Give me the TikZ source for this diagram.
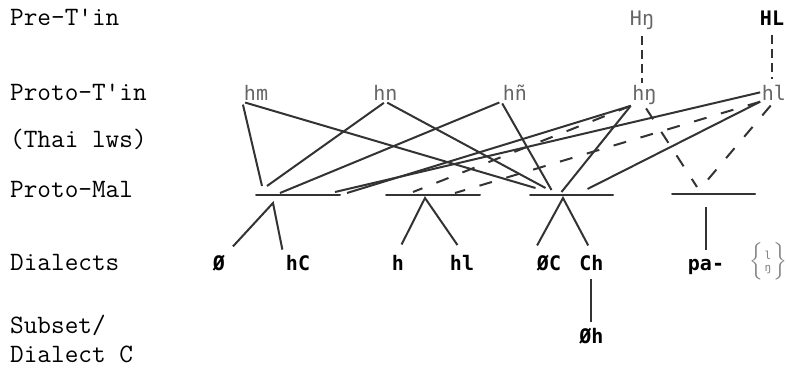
\documentclass[tikz,border=0pt]{standalone}
\usepackage{amsmath}
\usepackage{fontspec}
\newfontfamily\segfont{DejaVu Sans Mono}
\usepackage{tikz}
\usetikzlibrary {calc,
                 positioning}
\tikzset{
        rowlab/.style={font=\ttfamily\fontsize{26.5}{30}\selectfont, inner sep=0pt,
                       anchor=base west},
        seg/.style={font=\segfont\fontsize{20}{24}\selectfont, inner sep=1.5pt},
        proto/.style={seg, text=black!60},
        dial/.style={seg, inner sep=3pt, font=\segfont\bfseries\fontsize{20}{24}\selectfont},
        bar/.style={draw=black!80, line width=2pt, line join=round,
                    minimum height=0pt, inner sep=0pt},
        link/.style={draw=black!80, line width=2pt},
        thai/.style={link, dash pattern=on 13pt off 15pt},
        tie/.style={link, dash pattern=on 9pt off 5pt},
 }

\begin{document}
\begin{tikzpicture}[x=1pt, y=-1pt]
    \useasboundingbox (0,0) rectangle (787,369);

    \node[rowlab] (pre) at (10,26) {Pre-T'in};
    \node[rowlab] (ptin) at (10,100) {Proto-T'in};
    \node[rowlab] (thai) at (10,147) {(Thai lws)};
    \node[rowlab] (pmal) at (10,197) {Proto-Mal};
    \node[rowlab] (dials) at (10,270) {Dialects};
    \node[rowlab] (subset) at (10,333) {Subset/};
    \node[rowlab] (dialc) at (10,362) {Dialect C};

    \node[proto, anchor=base] (Hng) at (642,26) {Hŋ};
    \node[seg, anchor=base, font=\segfont\bfseries\fontsize{20}{24}\selectfont] (HL) at (772,26) {HL};

    \node[proto, anchor=base] (hm) at (256,100) {hm};
    \node[proto, base right=102pt of hm] (hn) {hn};
    \node[proto, base right=102pt of hn] (hnn) {hñ};
    \node[proto, base right=102pt of hnn] (hng) {hŋ};
    \node[proto, base right=102pt of hng] (hl) {hl};

    \node[bar, minimum width=84pt] (pm1) at (298,195) {};
    \node[bar, minimum width=94pt] (pm2) at (433,195) {};
    \node[bar, minimum width=83pt] (pm3) at (571.5,195) {};
    \node[bar, minimum width=83pt] (pm4) at (713.5,194) {};

    \node[dial, anchor=base] (d0) at (219,270) {Ø};
    \node[dial, anchor=base] (dhc) at (298,270) {hC};
    \node[dial, anchor=base] (dh) at (398,270) {h};
    \node[dial, anchor=base] (dhl) at (462,270) {hl};
    \node[dial, anchor=base] (doc) at (549,270) {ØC};
    \node[dial, base right=12pt of doc] (dch) {Ch};
    \node[dial, anchor=base] (dpa) at (706,270) {pa-};
    \node[seg, text=black!50, inner sep=0pt] (dlng) at (768,261)
        {$\Big\{$%
         {\fontsize{11}{12}\selectfont\begin{tabular}{@{\,}c@{\,}}l\\ŋ\end{tabular}}%
         $\Big\}$};
    \node[dial, below=52pt of dch] (doh) {Øh};

    \draw[tie, shorten <=4pt] (Hng.south) -- (Hng.south |- hng.north);
    \draw[tie, shorten <=7pt, shorten >=4pt] (HL.south) -- (HL.south |- hl.north);

    \draw[link, shorten <=3pt] (hm.south west) -- ([xshift=-36pt,yshift=9pt]pm1.center);
    \draw[link, shorten <=3pt] (hm.south west) -- ([xshift=-36pt,yshift=7pt]pm3.center);
    \draw[link, shorten <=2pt] (hn.south) -- ([xshift=-31pt,yshift=9pt]pm1.center);
    \draw[link, shorten <=2pt] (hn.south) -- ([xshift=-26pt,yshift=7pt]pm3.center);
    \draw[link, shorten <=2pt] (hnn.south west) -- ([xshift=-18pt,yshift=2pt]pm1.center);
    \draw[link, shorten <=2pt] (hnn.south west) -- ([xshift=-20pt,yshift=5pt]pm3.center);
    \draw[link] (hng.south west) -- ([xshift=49pt,yshift=2pt]pm1.center);
    \draw[link] (hng.south west) -- ([xshift=-10pt,yshift=3pt]pm3.center);
    \draw[link] (hl.west) -- ([xshift=37pt,yshift=3pt]pm1.center);
    \draw[link] (hl.south west) -- ([xshift=16pt,yshift=6pt]pm3.center);

    \draw[thai] (hng.south west) -- ([xshift=-20pt,yshift=3pt]pm2.center);
    \draw[thai] (hl.south west) -- ([xshift=22pt,yshift=2pt]pm2.center);
    \draw[thai, shorten <=3pt] (hng.south) -- ([xshift=-16.5pt,yshift=7pt]pm4.center);
    \draw[thai, shorten <=5pt] (hl.south) -- ([xshift=-8.5pt,yshift=11pt]pm4.center);

    \draw[link, shorten <=7pt, shorten >=2pt] (d0.north east)
        -- ([xshift=-25pt,yshift=-8pt]pm1.center) -- (dhc.north west);
    \draw[link, shorten <=8pt, shorten >=8pt] (dh.north)
        -- ([xshift=-8pt,yshift=-3pt]pm2.center) -- (dhl.north);
    \draw[link, shorten <=7pt, shorten >=7pt] (doc.north west)
        -- ([xshift=-8.5pt,yshift=-3pt]pm3.center) -- (dch.north);
    \draw[link, shorten <=12pt, shorten >=6pt] (dpa.north |- pm4.south) -- (dpa.north);
    \draw[link, shorten <=6pt, shorten >=3pt] (dch.south) -- (dch.south |- doh.north);
\end{tikzpicture}
\end{document}
